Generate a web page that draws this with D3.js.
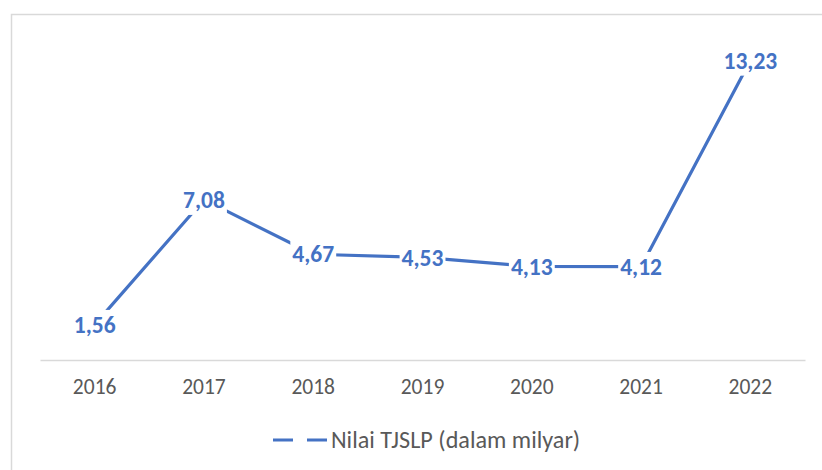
<!DOCTYPE html>
<html>
<head>
<meta charset="utf-8">
<script src="https://cdn.jsdelivr.net/npm/d3@7"></script>
<style>
  html, body { margin: 0; padding: 0; background: #fff; }
  svg { display: block; }
</style>
</head>
<body>
<div id="chart"></div>
<script>
// data
var years = ["2016", "2017", "2018", "2019", "2020", "2021", "2022"];
var values = [1.56, 7.08, 4.67, 4.53, 4.13, 4.12, 13.23];
var valueLabels = ["1,56", "7,08", "4,67", "4,53", "4,13", "4,12", "13,23"];
var seriesName = "Nilai TJSLP (dalam milyar)";

var W = 822, H = 470;
var blue = "#4472C4";
var font = "Carlito, 'Open Sans', sans-serif";

var svg = d3.select("#chart").append("svg")
    .attr("width", W).attr("height", H);

// chart frame
svg.append("rect")
    .attr("x", 11.5).attr("y", 14.5)
    .attr("width", W + 10).attr("height", H + 10)
    .attr("fill", "#fff")
    .attr("stroke", "#d9d9d9").attr("stroke-width", 1.5);

var x = d3.scaleBand().domain(years).range([40, 805]);
var y = d3.scaleLinear().domain([0, 14]).range([360, 43]);

var data = years.map(function (yr, i) {
    return { year: yr, v: values[i], label: valueLabels[i] };
});

// category axis
var xAxis = svg.append("g")
    .attr("transform", "translate(0,360)")
    .call(d3.axisBottom(x).tickSize(0).tickPadding(0));
xAxis.select(".domain").attr("stroke", "#d9d9d9").attr("stroke-width", 1.5);
xAxis.selectAll("text")
    .attr("dy", 0).attr("y", 34)
    .attr("fill", "#595959")
    .style("font-family", font)
    .style("font-size", "21.5px");

// the line
var line = d3.line()
    .x(function (d) { return x(d.year) + x.bandwidth() / 2; })
    .y(function (d) { return y(d.v); });

svg.append("path")
    .datum(data)
    .attr("d", line)
    .attr("fill", "none")
    .attr("stroke", blue)
    .attr("stroke-width", 3.2)
    .attr("stroke-linejoin", "round");

// data labels centred on the points, white box breaks the line
var lbl = svg.selectAll("g.lbl").data(data).enter().append("g")
    .attr("class", "lbl")
    .attr("transform", function (d) {
        return "translate(" + (x(d.year) + x.bandwidth() / 2) + "," + y(d.v) + ")";
    });
lbl.append("text")
    .attr("text-anchor", "middle")
    .attr("dy", "0.35em")
    .attr("fill", blue)
    .style("font-family", font)
    .style("font-weight", "bold")
    .style("font-size", "23.5px")
    .text(function (d) { return d.label; });
lbl.each(function () {
    var g = d3.select(this);
    var bb = g.select("text").node().getBBox();
    g.insert("rect", "text")
        .attr("x", bb.x - 2).attr("y", bb.y - 1)
        .attr("width", bb.width + 4).attr("height", bb.height + 2)
        .attr("fill", "#fff");
});

// legend
var leg = svg.append("g").attr("transform", "translate(273,440)");
leg.append("line")
    .attr("x1", 0).attr("x2", 55)
    .attr("stroke", blue).attr("stroke-width", 3.2)
    .attr("stroke-dasharray", "20,14");
leg.append("text")
    .attr("x", 58).attr("dy", "0.35em")
    .attr("fill", "#595959")
    .style("font-family", font)
    .style("font-size", "24.2px")
    .text(seriesName);
</script>
</body>
</html>
